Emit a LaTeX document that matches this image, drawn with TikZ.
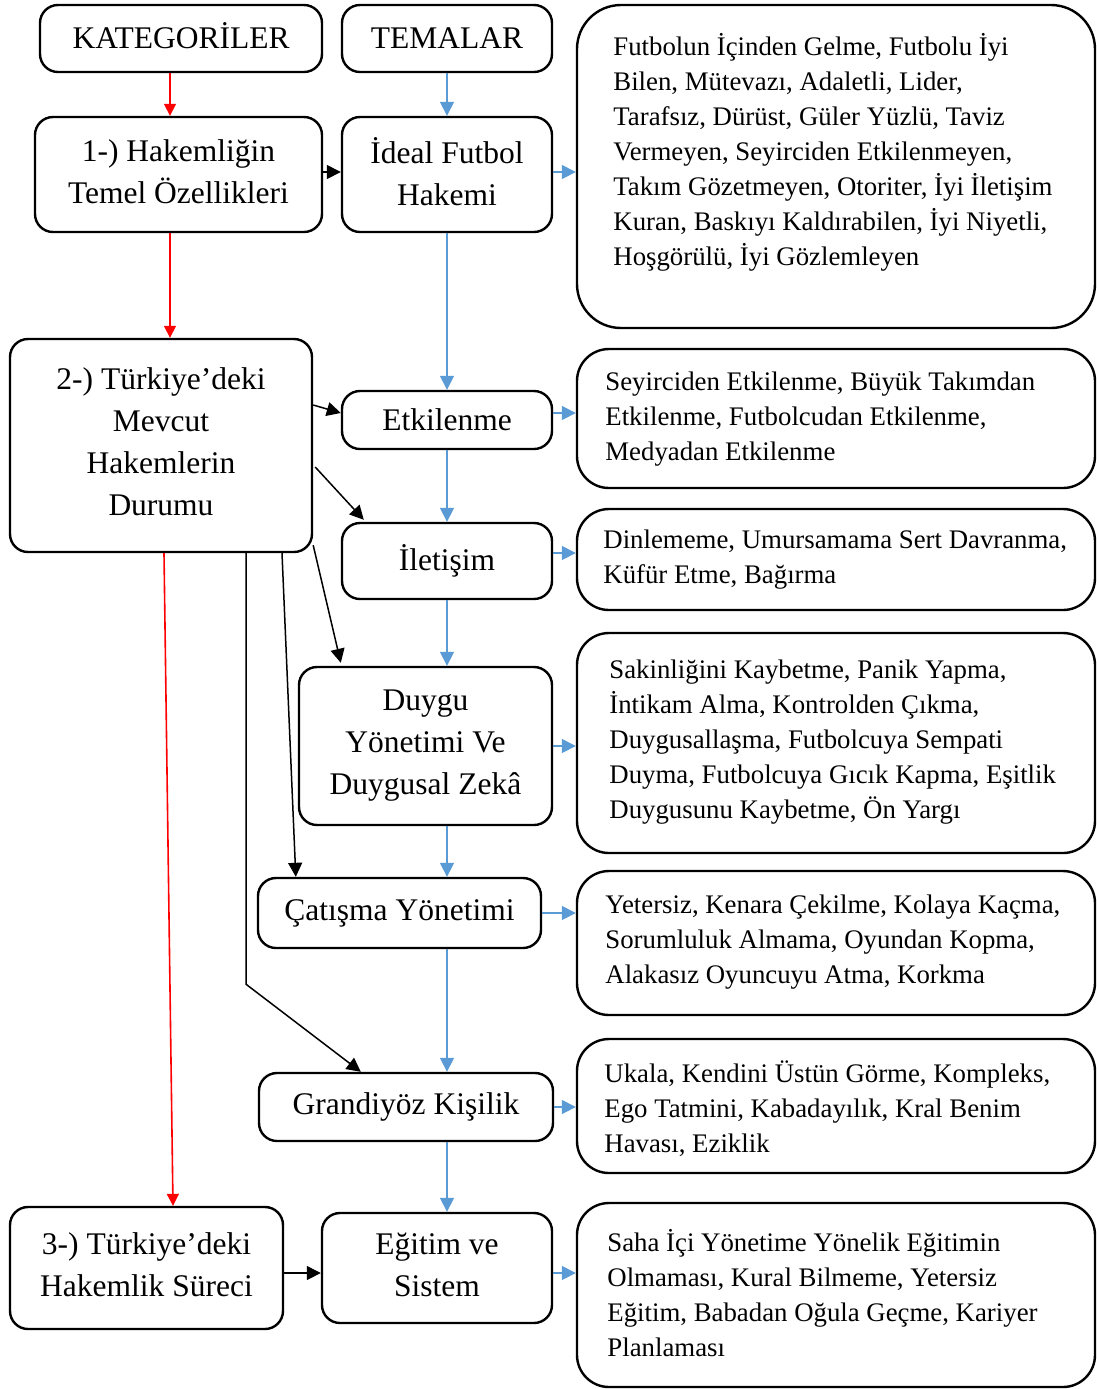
\documentclass[tikz,border=0pt]{standalone}
\usepackage{fontspec}
\setmainfont{Liberation Serif}
\usetikzlibrary{arrows.meta,calc}
\definecolor{lblue}{HTML}{5B9BD5}
\definecolor{lred}{HTML}{FF0000}
\begin{document}
\begin{tikzpicture}[x=0.5pt,y=-0.5pt,
 box/.style={draw, line width=1.2pt, rounded corners=9pt, inner sep=0pt, align=center, font=\fontsize{15.75}{21}\selectfont},
 rbox/.style={draw, line width=1.2pt, rounded corners=16pt, inner sep=0pt, minimum width=259pt},
 rtext/.style={anchor=west, inner sep=0pt, align=left, font=\fontsize{13.4}{17.5}\selectfont},
 blk/.style={draw=black, line width=0.75pt, -{Triangle[length=7pt,width=7pt]}},
 blu/.style={draw=lblue, line width=0.8pt, -{Triangle[length=7pt,width=7pt]}},
 rd/.style={draw=lred, line width=0.8pt, -{Triangle[length=6pt,width=6pt]}},
]
\useasboundingbox (0,0) rectangle (1097,1389);
% left column
\node[box, minimum width=141pt, minimum height=33.5pt] (kat) at (181,38.5) {KATEGORİLER\rule[-3pt]{0pt}{3pt}};
\node[box, minimum width=143.5pt, minimum height=57.5pt] (h1) at (178.5,174.5) {1-) Hakemliğin\\Temel Özellikleri\rule[-3pt]{0pt}{3pt}};
\node[box, minimum width=151pt, minimum height=106.5pt] (c2) at (161,445.5) {2-) Türkiye’deki\\Mevcut\\Hakemlerin\\Durumu\rule[-4pt]{0pt}{4pt}};
\node[box, minimum width=136.5pt, minimum height=61pt] (c3) at (146.5,1268) {3-) Türkiye’deki\\Hakemlik Süreci\rule[-3pt]{0pt}{3pt}};
% middle column
\node[box, minimum width=105pt, minimum height=33.5pt] (tem) at (447,38.5) {TEMALAR};
\node[box, minimum width=105pt, minimum height=57.5pt] (ideal) at (447,174.5) {İdeal Futbol\\Hakemi\rule[-3pt]{0pt}{3pt}};
\node[box, minimum width=105pt, minimum height=29pt] (etk) at (447,420) {Etkilenme};
\node[box, minimum width=105pt, minimum height=38pt] (il) at (447,561) {İletişim\rule[-3pt]{0pt}{3pt}};
\node[box, minimum width=126.5pt, minimum height=79pt] (du) at (425.5,746) {Duygu\\Yönetimi Ve\\Duygusal Zekâ\rule[-3pt]{0pt}{3pt}};
\node[box, minimum width=141.5pt, minimum height=35pt] (ca) at (399.5,913) {Çatışma Yönetimi};
\node[box, minimum width=147pt, minimum height=34pt] (gr) at (406,1107) {Grandiyöz Kişilik};
\node[box, minimum width=115pt, minimum height=55pt] (eg) at (437,1268) {Eğitim ve\\Sistem\rule[-3pt]{0pt}{3pt}};
% right column
\node[rbox, rounded corners=22pt, minimum height=161.5pt] (r1) at (836,166.5) {};
\node[rtext] (t1) at (613,152) {Futbolun İçinden Gelme, Futbolu İyi\\Bilen, Mütevazı, Adaletli, Lider,\\Tarafsız, Dürüst, Güler Yüzlü, Taviz\\Vermeyen, Seyirciden Etkilenmeyen,\\Takım Gözetmeyen, Otoriter, İyi İletişim\\Kuran, Baskıyı Kaldırabilen, İyi Niyetli,\\Hoşgörülü, İyi Gözlemleyen};
\node[rbox, minimum height=69.5pt] (r2) at (836,418.5) {};
\node[rtext] (t2) at (605,419) {Seyirciden Etkilenme, Büyük Takımdan\\Etkilenme, Futbolcudan Etkilenme,\\Medyadan Etkilenme};
\node[rbox, minimum height=50.5pt] (r3) at (836,559.5) {};
\node[rtext] (t3) at (603,559.5) {Dinlememe, Umursamama Sert Davranma,\\Küfür Etme, Bağırma};
\node[rbox, minimum height=110pt] (r4) at (836,743) {};
\node[rtext] (t4) at (609,742.5) {Sakinliğini Kaybetme, Panik Yapma,\\İntikam Alma, Kontrolden Çıkma,\\Duygusallaşma, Futbolcuya Sempati\\Duyma, Futbolcuya Gıcık Kapma, Eşitlik\\Duygusunu Kaybetme, Ön Yargı};
\node[rbox, minimum height=72pt] (r5) at (836,943) {};
\node[rtext] (t5) at (605,942) {Yetersiz, Kenara Çekilme, Kolaya Kaçma,\\Sorumluluk Almama, Oyundan Kopma,\\Alakasız Oyuncuyu Atma, Korkma};
\node[rbox, minimum height=67pt] (r6) at (836,1106) {};
\node[rtext] (t6) at (604,1109) {Ukala, Kendini Üstün Görme, Kompleks,\\Ego Tatmini, Kabadayılık, Kral Benim\\Havası, Eziklik};
\node[rbox, minimum height=92pt] (r7) at (836,1295) {};
\node[rtext] (t7) at (607,1293.5) {Saha İçi Yönetime Yönelik Eğitimin\\Olmaması, Kural Bilmeme, Yetersiz\\Eğitim, Babadan Oğula Geçme, Kariyer\\Planlaması};
% red connectors
\draw[rd] ($(kat.south)+(-11,0)$) -- ($(h1.north)+(-8.5,0)$);
\draw[rd] ($(h1.south)+(-8.5,0)$) -- ($(c2.north)+(9,0)$);
\draw[rd] ($(c2.south)+(3,0)$) -- ($(c3.north)+(26.5,0)$);
% blue vertical connectors
\draw[blu] (tem.south) -- (ideal.north);
\draw[blu] (ideal.south) -- (etk.north);
\draw[blu] (etk.south) -- (il.north);
\draw[blu] (il.south) -- (il.south |- du.north);
\draw[blu] (du.south -| il.south) -- (ca.north -| il.south);
\draw[blu] (ca.south -| il.south) -- (gr.north -| il.south);
\draw[blu] (gr.south -| il.south) -- (eg.north -| il.south);
% blue horizontal connectors
\draw[blu] ($(ideal.east)+(0,-2.5)$) -- ($(ideal.east -| r1.west)+(0,-2.5)$);
\draw[blu] ($(etk.east)+(0,-7)$) -- ($(etk.east -| r2.west)+(0,-7)$);
\draw[blu] ($(il.east)+(0,-8)$) -- ($(il.east -| r3.west)+(0,-8)$);
\draw[blu] (du.east) -- (du.east -| r4.west);
\draw[blu] (ca.east) -- (ca.east -| r5.west);
\draw[blu] (gr.east) -- (gr.east -| r6.west);
\draw[blu] ($(eg.east)+(0,5)$) -- ($(eg.east -| r7.west)+(0,5)$);
% black connectors
\draw[blk] ($(h1.east)+(0,-2.5)$) -- ($(ideal.west)+(0,-2.5)$);
\draw[blk] ($(c3.east)+(0,5)$) -- ($(eg.west)+(0,5)$);
\draw[blk] ($(c2.east)+(0,-40.5)$) -- ($(etk.west)+(0,-7)$);
\draw[blk] ($(c2.east)+(2,21.5)$) -- ($(il.north west)+(23,-2)$);
\draw[blk] ($(c2.south east)+(0,-8)$) -- ($(du.north west)+(43,-3)$);
\draw[blk] ($(c2.south)+(121,0)$) -- ($(ca.north west)+(39,0)$);
\draw[blk] ($(c2.south)+(85,0)$) -- ++(0,431) -- ($(gr.north west)+(103,0)$);
\end{tikzpicture}
\end{document}
